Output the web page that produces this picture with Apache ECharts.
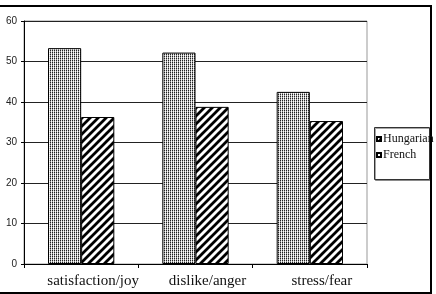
<!DOCTYPE html>
<html>
<head>
<meta charset="utf-8">
<script src="https://cdn.jsdelivr.net/npm/echarts@6/dist/echarts.min.js"></script>
<style>
  html, body { margin: 0; padding: 0; background: #fff; }
  #frame { position: absolute; left: -4px; top: 5px; width: 432px; height: 285px; border: 2px solid #000; box-sizing: content-box; }
  #chart { position: absolute; left: 0; top: 0; width: 436px; height: 294px; }
</style>
</head>
<body>
<div id="frame"></div>
<div id="chart"></div>
<script>
// data
const categories = ['satisfaction/joy', 'dislike/anger', 'stress/fear'];
const hungarian = [53.3, 52.2, 42.5];
const french = [36.3, 38.8, 35.3];
const yTicks = [0, 10, 20, 30, 40, 50, 60];

// dotted fill for Hungarian
function dotPattern() {
  const c = document.createElement('canvas');
  c.width = 2; c.height = 2;
  const g = c.getContext('2d');
  g.fillStyle = '#fff';
  g.fillRect(0, 0, 2, 2);
  g.fillStyle = '#222';
  g.fillRect(0, 0, 1, 1);
  g.fillStyle = '#999';
  g.fillRect(0, 1, 1, 1);
  g.fillStyle = '#ddd';
  g.fillRect(1, 0, 1, 1);
  return c;
}

// diagonal stripes for French
function stripePattern() {
  const s = 8;
  const c = document.createElement('canvas');
  c.width = s; c.height = s;
  const g = c.getContext('2d');
  g.fillStyle = '#fff';
  g.fillRect(0, 0, s, s);
  g.strokeStyle = '#000';
  g.lineWidth = 2.8;
  g.beginPath();
  g.moveTo(-2, s + 2); g.lineTo(s + 2, -2);
  g.moveTo(-2, 2); g.lineTo(2, -2);
  g.moveTo(s - 2, s + 2); g.lineTo(s + 2, s - 2);
  g.stroke();
  return c;
}

const dots = { image: dotPattern(), repeat: 'repeat' };
const stripes = { image: stripePattern(), repeat: 'repeat' };

const chart = echarts.init(document.getElementById('chart'), null, { renderer: 'canvas' });

chart.setOption({
  animation: false,
  grid: {
    left: 24, right: 69, top: 21, bottom: 30,
    show: true, borderColor: '#999', borderWidth: 1, backgroundColor: 'transparent'
  },
  // legend frame
  graphic: [{
    type: 'rect',
    left: 374, top: 127, z: 0,
    shape: { width: 55, height: 52 },
    style: { fill: '#fff', stroke: '#333', lineWidth: 1, shadowColor: 'rgba(0,0,0,0.35)', shadowOffsetX: 1, shadowOffsetY: 1 }
  }],
  legend: {
    orient: 'vertical',
    left: 376, top: 133,
    padding: 0,
    itemGap: 4,
    itemWidth: 4, itemHeight: 4,
    z: 10,
    textStyle: { fontFamily: 'Liberation Serif', fontSize: 12, color: '#111', padding: [0, 0, 0, -3] },
    data: [
      { name: 'Hungarian', icon: 'rect' },
      { name: 'French', icon: 'rect' }
    ]
  },
  xAxis: {
    type: 'category',
    data: categories,
    axisLine: { lineStyle: { color: '#000', width: 1 } },
    axisTick: { show: true, length: 4, lineStyle: { color: '#000' } },
    axisLabel: {
      interval: 0, hideOverlap: false,
      fontFamily: 'Liberation Serif', fontSize: 15, color: '#111', margin: 10,
      padding: [0, 0, 0, 24]
    }
  },
  yAxis: {
    type: 'value',
    min: 0, max: 60, interval: 10,
    axisLine: { show: true, lineStyle: { color: '#000', width: 1 } },
    axisTick: { show: true, length: 3, lineStyle: { color: '#000' } },
    axisLabel: {
      fontFamily: 'Liberation Sans', fontSize: 10, color: '#222', margin: 7,
      formatter: v => (yTicks.includes(v) ? String(v) : '')
    },
    splitLine: { show: true, lineStyle: { color: '#222', width: 1 } }
  },
  series: [
    {
      name: 'Hungarian',
      type: 'bar',
      data: hungarian,
      barGap: '0%',
      barCategoryGap: '42%',
      itemStyle: { color: dots, borderColor: '#000', borderWidth: 1 }
    },
    {
      name: 'French',
      type: 'bar',
      data: french,
      itemStyle: { color: stripes, borderColor: '#000', borderWidth: 1 }
    }
  ]
});
</script>
</body>
</html>
